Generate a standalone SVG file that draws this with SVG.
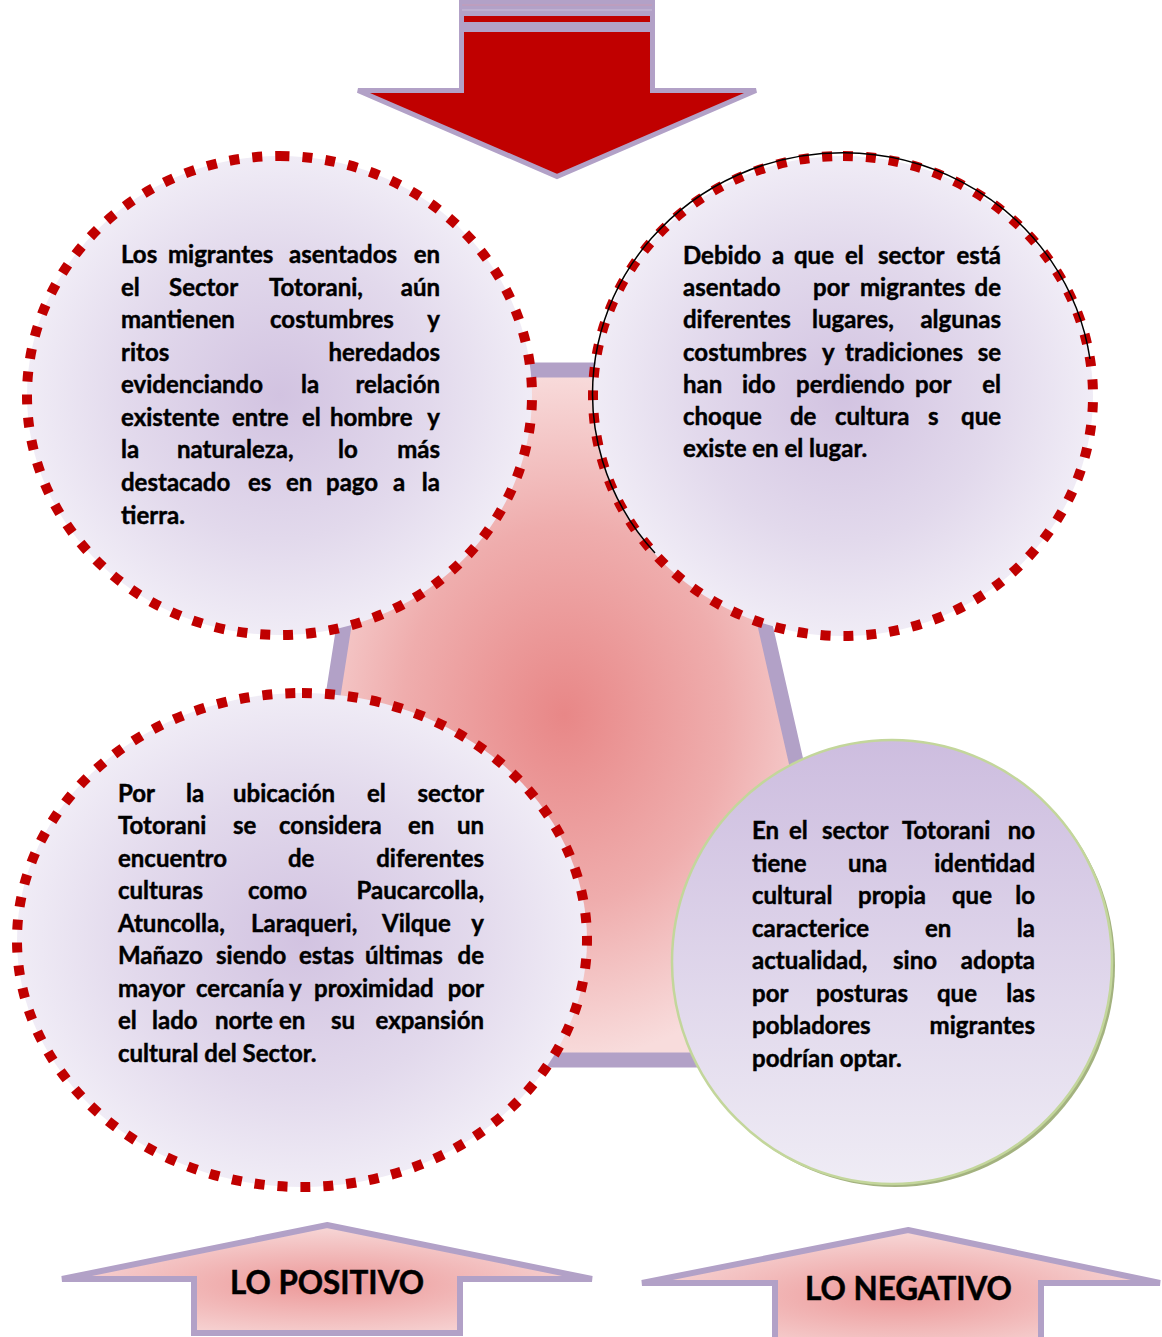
<svg xmlns="http://www.w3.org/2000/svg" width="1162" height="1337" viewBox="0 0 1162 1337">
<defs>
<style>
.t{font-family:Lato,"Liberation Sans",sans-serif;font-weight:700;font-size:24px;fill:#000;stroke:#000;stroke-width:0.45}
.r{text-anchor:end}
.lbl{font-family:Lato,"Liberation Sans",sans-serif;font-weight:700;font-size:32px;fill:#000;stroke:#000;stroke-width:0.5;text-anchor:middle}
.dots{fill:url(#gCircle);stroke:#C00000;stroke-width:10;stroke-dasharray:10 13}
</style>
<radialGradient id="gCircle" cx="0.5" cy="0.5" r="0.5">
<stop offset="0" stop-color="#D2C3E1"/>
<stop offset="0.6" stop-color="#E2D9EC"/>
<stop offset="1" stop-color="#F0ECF6"/>
</radialGradient>
<linearGradient id="gBR" x1="0" y1="0" x2="0" y2="1">
<stop offset="0" stop-color="#CDBDDF"/>
<stop offset="1" stop-color="#EFECF5"/>
</linearGradient>
<radialGradient id="gTrap" cx="0.49" cy="0.5" r="0.5">
<stop offset="0" stop-color="#E88787"/>
<stop offset="0.55" stop-color="#EFADAD"/>
<stop offset="1" stop-color="#F8DCDC"/>
</radialGradient>
<radialGradient id="gUp" cx="0.5" cy="0.55" r="0.6">
<stop offset="0" stop-color="#EC9898"/>
<stop offset="1" stop-color="#F8DEDE"/>
</radialGradient>
</defs>
<rect width="1162" height="1337" fill="#FFFFFF"/>

<g id="center-shape">
<polygon points="384,370 707,370 864,1060 276,1060" fill="url(#gTrap)" stroke="#B2A1C7" stroke-width="15" stroke-linejoin="miter"/>
</g>

<g id="connectors">
<g id="arrow-top">
<polygon points="461.5,-5 652.5,-5 652.5,90.5 756,90.5 557,176.5 358,90.5 461.5,90.5" fill="#C00000" stroke="#B2A1C7" stroke-width="5"/>
<rect x="459" y="0" width="196" height="32" fill="#B2A1C7"/>
<line x1="462" y1="5" x2="652" y2="5" stroke="#C89AB4" stroke-width="1"/>
<line x1="462" y1="10" x2="652" y2="10" stroke="#C8BCD8" stroke-width="1"/>
<rect x="464" y="16" width="186" height="6" fill="#C00000"/>
</g>
</g>

<g id="node-tl">
<path class="dots" d="M279.5,156 A252.5,239.5 0 1 1 279.5,635 A252.5,239.5 0 1 1 279.5,156 Z"/>
<text class="t" y="263"><tspan x="121">Los</tspan><tspan x="168">migrantes</tspan><tspan x="289">asentados</tspan></text><text class="t r" x="440" y="263">en</text>
<text class="t" y="296"><tspan x="121">el</tspan><tspan x="169">Sector</tspan><tspan x="269">Totorani,</tspan></text><text class="t r" x="440" y="296">aún</text>
<text class="t" y="328"><tspan x="121">mantienen</tspan><tspan x="270">costumbres</tspan></text><text class="t r" x="440" y="328">y</text>
<text class="t" y="361"><tspan x="121">ritos</tspan></text><text class="t r" x="440" y="361">heredados</text>
<text class="t" y="393"><tspan x="121">evidenciando</tspan><tspan x="301">la</tspan></text><text class="t r" x="440" y="393">relación</text>
<text class="t" y="426"><tspan x="121">existente</tspan><tspan x="232">entre</tspan><tspan x="302">el</tspan><tspan x="330">hombre</tspan></text><text class="t r" x="440" y="426">y</text>
<text class="t" y="458"><tspan x="121">la</tspan><tspan x="177">naturaleza,</tspan><tspan x="338">lo</tspan></text><text class="t r" x="440" y="458">más</text>
<text class="t" y="491"><tspan x="121">destacado</tspan><tspan x="248">es</tspan><tspan x="286">en</tspan><tspan x="326">pago</tspan><tspan x="393">a</tspan></text><text class="t r" x="440" y="491">la</text>
<text class="t" x="121" y="524">tierra.</text>
</g>

<g id="node-tr">
<path class="dots" d="M843,156 A250,240 0 1 1 843,636 A250,240 0 1 1 843,156 Z"/>
<path d="M655,554 A250,241 0 1 1 1090,360" fill="none" stroke="#000" stroke-width="1.5" transform="translate(0,-1)"/>
<text class="t" y="264"><tspan x="683">Debido</tspan><tspan x="772">a</tspan><tspan x="794">que</tspan><tspan x="845">el</tspan><tspan x="878">sector</tspan></text><text class="t r" x="1001" y="264">está</text>
<text class="t" y="296"><tspan x="683">asentado</tspan><tspan x="813">por</tspan><tspan x="860">migrantes</tspan></text><text class="t r" x="1001" y="296">de</text>
<text class="t" y="328"><tspan x="683">diferentes</tspan><tspan x="812">lugares,</tspan></text><text class="t r" x="1001" y="328">algunas</text>
<text class="t" y="361"><tspan x="683">costumbres</tspan><tspan x="822">y</tspan><tspan x="845">tradiciones</tspan></text><text class="t r" x="1001" y="361">se</text>
<text class="t" y="393"><tspan x="683">han</tspan><tspan x="742">ido</tspan><tspan x="796">perdiendo</tspan><tspan x="915">por</tspan></text><text class="t r" x="1001" y="393">el</text>
<text class="t" y="425"><tspan x="683">choque</tspan><tspan x="790">de</tspan><tspan x="835">cultura</tspan><tspan x="928">s</tspan></text><text class="t r" x="1001" y="425">que</text>
<text class="t" x="683" y="457">existe en el lugar.</text>
</g>

<g id="node-bl">
<path class="dots" d="M302,693 A285,247 0 1 1 302,1187 A285,247 0 1 1 302,693 Z"/>
<text class="t" y="802"><tspan x="118">Por</tspan><tspan x="186">la</tspan><tspan x="233">ubicación</tspan><tspan x="367">el</tspan></text><text class="t r" x="484" y="802">sector</text>
<text class="t" y="834"><tspan x="118">Totorani</tspan><tspan x="233">se</tspan><tspan x="279">considera</tspan><tspan x="408">en</tspan></text><text class="t r" x="484" y="834">un</text>
<text class="t" y="867"><tspan x="118">encuentro</tspan><tspan x="288">de</tspan></text><text class="t r" x="484" y="867">diferentes</text>
<text class="t" y="899"><tspan x="118">culturas</tspan><tspan x="248">como</tspan></text><text class="t r" x="484" y="899">Paucarcolla,</text>
<text class="t" y="932"><tspan x="118">Atuncolla,</tspan><tspan x="251">Laraqueri,</tspan><tspan x="382">Vilque</tspan></text><text class="t r" x="484" y="932">y</text>
<text class="t" y="964"><tspan x="118">Mañazo</tspan><tspan x="216">siendo</tspan><tspan x="299">estas</tspan><tspan x="365">últimas</tspan></text><text class="t r" x="484" y="964">de</text>
<text class="t" y="997"><tspan x="118">mayor</tspan><tspan x="196">cercanía</tspan><tspan x="289">y</tspan><tspan x="314">proximidad</tspan></text><text class="t r" x="484" y="997">por</text>
<text class="t" y="1029"><tspan x="118">el</tspan><tspan x="152">lado</tspan><tspan x="215">norte</tspan><tspan x="279">en</tspan><tspan x="331">su</tspan></text><text class="t r" x="484" y="1029">expansión</text>
<text class="t" x="118" y="1062">cultural del Sector.</text>
</g>

<g id="node-br">
<ellipse cx="895" cy="965" rx="220" ry="222" fill="#A3B27F"/>
<ellipse cx="892" cy="962" rx="220" ry="222" fill="url(#gBR)" stroke="#C3D69B" stroke-width="2.5"/>
<text class="t" y="839"><tspan x="752">En</tspan><tspan x="789">el</tspan><tspan x="822">sector</tspan><tspan x="902">Totorani</tspan></text><text class="t r" x="1035" y="839">no</text>
<text class="t" y="872"><tspan x="752">tiene</tspan><tspan x="848">una</tspan></text><text class="t r" x="1035" y="872">identidad</text>
<text class="t" y="904"><tspan x="752">cultural</tspan><tspan x="858">propia</tspan><tspan x="952">que</tspan></text><text class="t r" x="1035" y="904">lo</text>
<text class="t" y="937"><tspan x="752">caracterice</tspan><tspan x="925">en</tspan></text><text class="t r" x="1035" y="937">la</text>
<text class="t" y="969"><tspan x="752">actualidad,</tspan><tspan x="893">sino</tspan></text><text class="t r" x="1035" y="969">adopta</text>
<text class="t" y="1002"><tspan x="752">por</tspan><tspan x="816">posturas</tspan><tspan x="937">que</tspan></text><text class="t r" x="1035" y="1002">las</text>
<text class="t" y="1034"><tspan x="752">pobladores</tspan></text><text class="t r" x="1035" y="1034">migrantes</text>
<text class="t" x="752" y="1067">podrían optar.</text>
</g>

<g id="node-positivo">
<polygon points="327,1225 592,1279 460,1279 460,1333 194,1333 194,1279 62,1279" fill="url(#gUp)" stroke="#B2A1C7" stroke-width="6"/>
<text class="lbl" x="327" y="1294" textLength="194" lengthAdjust="spacingAndGlyphs">LO POSITIVO</text>
</g>

<g id="node-negativo">
<polygon points="908,1230 1160,1283 1041,1283 1041,1350 775,1350 775,1283 642,1283" fill="url(#gUp)" stroke="#B2A1C7" stroke-width="6"/>
<text class="lbl" x="908.5" y="1300" textLength="207" lengthAdjust="spacingAndGlyphs">LO NEGATIVO</text>
</g>
</svg>
